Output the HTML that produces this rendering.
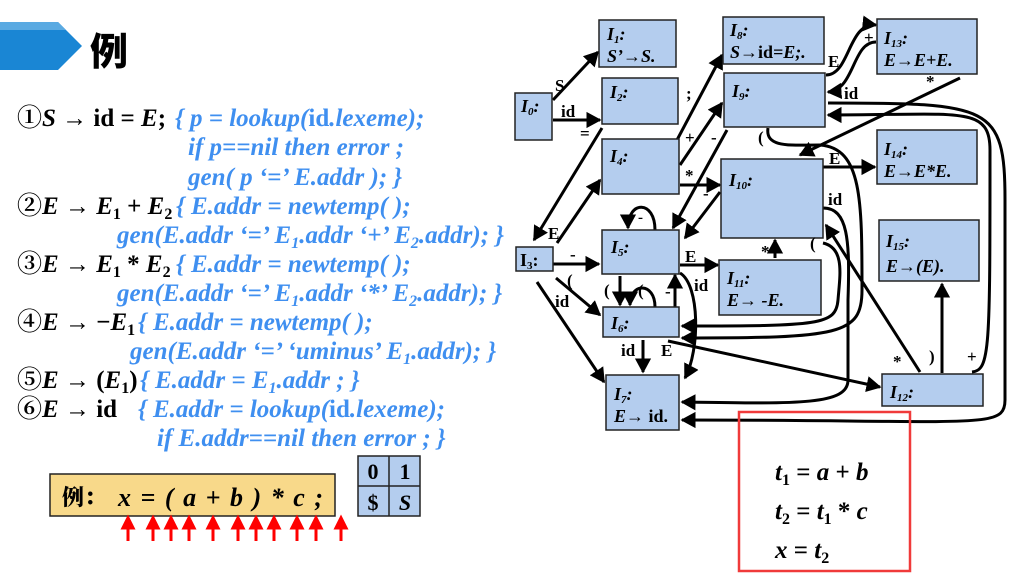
<!DOCTYPE html>
<html><head><meta charset="utf-8"><style>
html,body{margin:0;padding:0;background:#fff;}
svg{display:block}
.b{font-family:"Liberation Serif","Noto Serif CJK SC",serif;font-weight:bold;}
.k{fill:#000}
.u{fill:#3f8ff0;font-style:italic}
.box{fill:#b4cdee;stroke:#222;stroke-width:1.5}
.e{fill:none;stroke:#000;stroke-width:3}
.lb{font-family:"Liberation Serif",serif;font-weight:bold;font-size:17px;fill:#000}
.bl{font-family:"Liberation Serif",serif;font-weight:bold;font-style:italic;font-size:18px;fill:#000}
</style></head><body>
<svg width="1022" height="574" viewBox="0 0 1022 574" xmlns="http://www.w3.org/2000/svg">
<defs>
<marker id="a" markerWidth="6" markerHeight="6" refX="4.5" refY="3" orient="auto" markerUnits="strokeWidth"><path d="M0,0.3 L5,3 L0,5.7z" fill="#000"/></marker>
<marker id="r" markerWidth="5" markerHeight="5" refX="2.5" refY="2.5" orient="auto" markerUnits="strokeWidth"><path d="M0,0 L5,2.5 L0,5z" fill="#f00"/></marker>
</defs>
<polygon points="0,22 58,22 82,46 58,70 0,70" fill="#1a86d4"/>
<polygon points="0,22 58,22 66,30 0,30" fill="#5aaae2"/>
<text x="90" y="65" font-size="38" style="font-family:'Noto Sans CJK SC',sans-serif;font-weight:900">例</text>

<g class="b" font-size="25">
<text x="17" y="126" class="k">①<tspan font-style="italic">S</tspan> → id = <tspan font-style="italic">E</tspan>;</text>
<text x="175" y="126" class="u">{ p = lookup(<tspan font-style="normal">id</tspan>.lexeme);</text>
<text x="188" y="155" class="u">if p==nil then error ;</text>
<text x="188" y="185" class="u">gen( p ‘=’ E.addr ); }</text>
<text x="17" y="214" class="k">②<tspan font-style="italic">E</tspan> → <tspan font-style="italic">E</tspan><tspan font-size="16" dy="5">1</tspan><tspan dy="-5"> + </tspan><tspan font-style="italic">E</tspan><tspan font-size="16" dy="5">2</tspan></text>
<text x="176" y="214" class="u">{ E.addr = newtemp( );</text>
<text x="117" y="243" class="u">gen(E.addr ‘=’ E<tspan font-size="16" dy="5">1</tspan><tspan dy="-5">.addr ‘+’ E</tspan><tspan font-size="16" dy="5">2</tspan><tspan dy="-5">.addr); }</tspan></text>
<text x="17" y="272" class="k">③<tspan font-style="italic">E</tspan> → <tspan font-style="italic">E</tspan><tspan font-size="16" dy="5">1</tspan><tspan dy="-5"> * </tspan><tspan font-style="italic">E</tspan><tspan font-size="16" dy="5">2</tspan></text>
<text x="176" y="272" class="u">{ E.addr = newtemp( );</text>
<text x="117" y="301" class="u">gen(E.addr ‘=’ E<tspan font-size="16" dy="5">1</tspan><tspan dy="-5">.addr ‘*’ E</tspan><tspan font-size="16" dy="5">2</tspan><tspan dy="-5">.addr); }</tspan></text>
<text x="17" y="330" class="k">④<tspan font-style="italic">E</tspan> → −<tspan font-style="italic">E</tspan><tspan font-size="16" dy="5">1</tspan></text>
<text x="138" y="330" class="u">{ E.addr = newtemp( );</text>
<text x="130" y="359" class="u">gen(E.addr ‘=’ ‘uminus’ E<tspan font-size="16" dy="5">1</tspan><tspan dy="-5">.addr); }</tspan></text>
<text x="17" y="388" class="k">⑤<tspan font-style="italic">E</tspan> → (<tspan font-style="italic">E</tspan><tspan font-size="16" dy="5">1</tspan><tspan dy="-5">)</tspan></text>
<text x="140" y="388" class="u">{ E.addr = E<tspan font-size="16" dy="5">1</tspan><tspan dy="-5">.addr ; }</tspan></text>
<text x="17" y="417" class="k">⑥<tspan font-style="italic">E</tspan> → id</text>
<text x="138" y="417" class="u">{ E.addr = lookup(<tspan font-style="normal">id</tspan>.lexeme);</text>
<text x="157" y="446" class="u">if E.addr==nil then error ; }</text>
</g>

<rect x="50" y="474" width="285" height="42" fill="#f8d98a" stroke="#222" stroke-width="1.5"/>
<text x="62" y="505" font-size="22" style="font-family:'Noto Serif CJK SC',serif;font-weight:900">例：</text>
<text x="118" y="506" class="b" font-size="26" font-style="italic" textLength="205" lengthAdjust="spacing">x = ( a + b ) * c ;</text>
<rect x="358" y="456" width="62" height="60" fill="#b4cdee" stroke="#222" stroke-width="1.5"/>
<line x1="389" y1="456" x2="389" y2="516" stroke="#222" stroke-width="1.5"/>
<line x1="358" y1="486" x2="420" y2="486" stroke="#222" stroke-width="1.5"/>
<g class="b" font-size="22" text-anchor="middle"><text x="373" y="479">0</text><text x="405" y="479">1</text><text x="373" y="510">$</text><text x="405" y="510" font-style="italic">S</text></g>
<g stroke="#f00" stroke-width="3" marker-end="url(#r)">
<line x1="128" y1="541" x2="128" y2="522"/><line x1="153" y1="541" x2="153" y2="522"/><line x1="171" y1="541" x2="171" y2="522"/><line x1="189" y1="541" x2="189" y2="522"/><line x1="213" y1="541" x2="213" y2="522"/><line x1="238" y1="541" x2="238" y2="522"/><line x1="256" y1="541" x2="256" y2="522"/><line x1="274" y1="541" x2="274" y2="522"/><line x1="297" y1="541" x2="297" y2="522"/><line x1="316" y1="541" x2="316" y2="522"/><line x1="341" y1="541" x2="341" y2="522"/>
</g>

<g class="e" marker-end="url(#a)">
<path d="M553,100 L598,52"/>
<path d="M553,120 L600,120"/>
<path d="M602,128 L534,240"/>
<path d="M557,243 L600,180"/>
<path d="M553,264 L599,264"/>
<path d="M556,278 L600,315"/>
<path d="M537,282 L604,382"/>
<path d="M677,140 L722,55"/>
<path d="M680,165 L722,103"/>
<path d="M727,130 L673,228"/>
<path d="M680,185 L720,185"/>
<path d="M720,192 L685,238"/>
<path d="M655,230 C655,200 628,200 628,228"/>
<path d="M680,265 L718,265"/>
<path d="M680,273 C700,285 700,350 685,378"/>
<path d="M620,276 L620,305"/>
<path d="M655,307 C655,282 630,282 630,305"/>
<path d="M675,307 L675,275"/>
<path d="M643,340 L643,372"/>
<path d="M668,341 L880,387"/>
<path d="M920,372 L826,225"/>
<path d="M942,373 L942,284"/>
<path d="M972,372 C990,370 990,350 990,150 C990,105 960,115 828,115"/>
<path d="M775,258 L775,240"/>
<path d="M823,167 L875,167"/>
<path d="M826,75 C850,75 848,22 876,25"/>
<path d="M876,42 C852,42 855,90 828,92"/>
<path d="M960,78 L800,155"/>
<path d="M828,103 C990,103 1005,105 1005,200 L1005,400 C1005,430 980,420 682,420"/>
<path d="M768,128 C765,148 790,145 820,145 C862,148 862,200 862,290 C862,335 840,338 682,338"/>
<path d="M823,243 C845,248 840,275 838,300 C836,325 820,326 682,326"/>
<path d="M823,208 C848,208 850,240 848,300 L848,380 C848,405 800,404 682,402"/>
</g>

<g class="box">
<rect x="515" y="93" width="37" height="47"/>
<rect x="599" y="20" width="77" height="47"/>
<rect x="602" y="78" width="76" height="46"/>
<rect x="602" y="139" width="77" height="55"/>
<rect x="723" y="17" width="101" height="47"/>
<rect x="724" y="73" width="101" height="54"/>
<rect x="877" y="19" width="100" height="55"/>
<rect x="877" y="130" width="100" height="54"/>
<rect x="721" y="159" width="102" height="79"/>
<rect x="879" y="220" width="100" height="61"/>
<rect x="516" y="247" width="37" height="24"/>
<rect x="602" y="230" width="77" height="44"/>
<rect x="719" y="260" width="102" height="55"/>
<rect x="603" y="307" width="76" height="30"/>
<rect x="606" y="375" width="73" height="55"/>
<rect x="882" y="374" width="101" height="32"/>
</g>
<g class="bl">
<text x="521" y="112">I<tspan font-size="11" dy="3">0</tspan><tspan dy="-3">:</tspan></text>
<text x="607" y="40">I<tspan font-size="11" dy="3">1</tspan><tspan dy="-3">:</tspan></text>
<text x="607" y="62">S’→S.</text>
<text x="610" y="98">I<tspan font-size="11" dy="3">2</tspan><tspan dy="-3">:</tspan></text>
<text x="610" y="162">I<tspan font-size="11" dy="3">4</tspan><tspan dy="-3">:</tspan></text>
<text x="730" y="36">I<tspan font-size="11" dy="3">8</tspan><tspan dy="-3">:</tspan></text>
<text x="730" y="58">S→<tspan font-style="normal">id</tspan>=E;.</text>
<text x="732" y="97">I<tspan font-size="11" dy="3">9</tspan><tspan dy="-3">:</tspan></text>
<text x="884" y="44">I<tspan font-size="11" dy="3">13</tspan><tspan dy="-3">:</tspan></text>
<text x="884" y="66">E→E+E.</text>
<text x="884" y="155">I<tspan font-size="11" dy="3">14</tspan><tspan dy="-3">:</tspan></text>
<text x="884" y="177">E→E*E.</text>
<text x="729" y="186">I<tspan font-size="11" dy="3">10</tspan><tspan dy="-3">:</tspan></text>
<text x="886" y="247">I<tspan font-size="11" dy="3">15</tspan><tspan dy="-3">:</tspan></text>
<text x="886" y="272">E→(E).</text>
<text x="520" y="266" font-style="normal">I<tspan font-size="11" dy="3">3</tspan><tspan dy="-3">:</tspan></text>
<text x="611" y="253">I<tspan font-size="11" dy="3">5</tspan><tspan dy="-3">:</tspan></text>
<text x="727" y="284">I<tspan font-size="11" dy="3">11</tspan><tspan dy="-3">:</tspan></text>
<text x="727" y="306">E→ -E.</text>
<text x="611" y="329">I<tspan font-size="11" dy="3">6</tspan><tspan dy="-3">:</tspan></text>
<text x="614" y="400">I<tspan font-size="11" dy="3">7</tspan><tspan dy="-3">:</tspan></text>
<text x="614" y="422">E→ <tspan font-style="normal">id.</tspan></text>
<text x="890" y="398">I<tspan font-size="11" dy="3">12</tspan><tspan dy="-3">:</tspan></text>
</g>
<g class="lb">
<text x="555" y="91">S</text><text x="561" y="117">id</text><text x="580" y="139">=</text>
<text x="548" y="239">E</text><text x="570" y="260">-</text><text x="567" y="286">(</text><text x="555" y="307">id</text>
<text x="686" y="99">;</text><text x="685" y="143">+</text><text x="711" y="143">-</text><text x="685" y="181">*</text><text x="703" y="199">-</text>
<text x="638" y="222" font-size="15">-</text><text x="685" y="262">E</text><text x="694" y="291">id</text>
<text x="604" y="296">(</text><text x="638" y="296">(</text><text x="665" y="297">-</text>
<text x="621" y="356">id</text><text x="661" y="356">E</text>
<text x="758" y="143">(</text><text x="761" y="257">*</text><text x="810" y="249">(</text>
<text x="828" y="67">E</text><text x="864" y="43">+</text><text x="844" y="99">id</text><text x="926" y="87">*</text>
<text x="829" y="164">E</text><text x="828" y="205">id</text>
<text x="893" y="367">*</text><text x="929" y="362">)</text><text x="967" y="362">+</text>
</g>

<rect x="739" y="412" width="171" height="159" fill="none" stroke="#f03a3a" stroke-width="2.5"/>
<g class="b" font-size="25" font-style="italic">
<text x="775" y="480">t<tspan font-size="16" font-style="normal" dy="5">1</tspan><tspan dy="-5" font-style="normal"> = </tspan>a<tspan font-style="normal"> + </tspan>b</text>
<text x="775" y="519">t<tspan font-size="16" font-style="normal" dy="5">2</tspan><tspan dy="-5" font-style="normal"> = </tspan>t<tspan font-size="16" font-style="normal" dy="5">1</tspan><tspan dy="-5" font-style="normal"> * </tspan>c</text>
<text x="775" y="558">x<tspan font-style="normal"> = </tspan>t<tspan font-size="16" font-style="normal" dy="5">2</tspan></text>
</g>
</svg>
</body></html>
